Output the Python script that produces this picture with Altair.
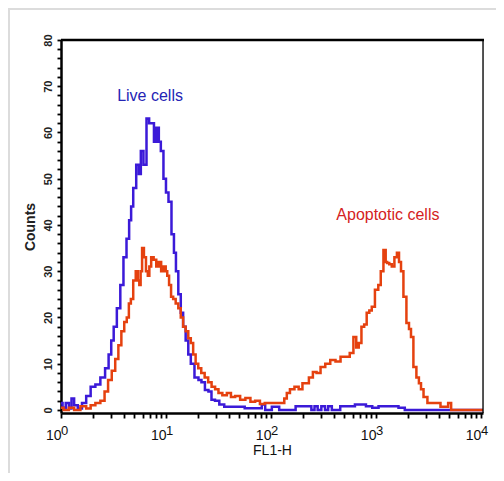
import altair as alt
import pandas as pd

# ---- data (x in decades of FL1-H, y = counts) ----
live_exp = [0.00, 0.03, 0.06, 0.09, 0.11, 0.14, 0.18, 0.22, 0.26, 0.305, 0.35, 0.40, 0.44, 0.467,
            0.49, 0.514, 0.55, 0.58, 0.61, 0.638, 0.66, 0.676, 0.70, 0.733, 0.75, 0.771, 0.80,
            0.829, 0.85, 0.876, 0.895, 0.924, 0.94, 0.962, 0.99, 1.01, 1.038, 1.067, 1.085,
            1.105, 1.13, 1.152, 1.175, 1.20, 1.225, 1.248, 1.295, 1.324, 1.352, 1.39, 1.419,
            1.448, 1.486, 1.53, 1.58, 1.70, 1.80, 1.895, 1.93, 1.96, 2.057, 2.10, 2.37, 2.40,
            2.43, 2.46, 2.50, 2.53, 2.56, 2.60, 2.72, 2.88, 2.93, 3.00, 3.05, 3.18, 3.25, 3.30, 4.02]
live_cnt = [1.5, 0.5, 1.5, 0.3, 2.5, 1.0, 0.3, 1.5, 3.0, 5.0, 5.5, 7.0, 9.0, 12.0,
            15.0, 18.0, 22.0, 27.0, 33.0, 37.0, 41.0, 44.0, 48.0, 53.0, 51.0, 56.0, 53.0,
            63.0, 62.0, 62.0, 58.0, 61.0, 58.0, 56.0, 50.0, 47.0, 45.0, 38.0, 34.0,
            30.0, 25.0, 21.0, 18.0, 15.0, 12.0, 10.0, 7.0, 6.5, 6.0, 4.3, 4.0,
            2.2, 2.0, 1.2, 0.7, 0.7, 0.4, 0.4, 1.2, 0.0, 0.7, 0.0, 0.8, 0.0,
            0.8, 0.0, 0.8, 0.0, 0.8, 0.0, 0.8, 1.2, 0.8, 0.5, 0.8, 0.8, 0.5, 0.0, 0.0]

apo_exp = [0.00, 0.05, 0.10, 0.15, 0.22, 0.26, 0.305, 0.35, 0.40, 0.43, 0.467, 0.50, 0.533,
           0.56, 0.59, 0.615, 0.638, 0.655, 0.676, 0.70, 0.724, 0.74, 0.752, 0.765, 0.78,
           0.80, 0.819, 0.835, 0.848, 0.87, 0.895, 0.92, 0.943, 0.965, 0.99, 1.005, 1.019,
           1.04, 1.057, 1.08, 1.105, 1.13, 1.152, 1.175, 1.20, 1.225, 1.248, 1.27, 1.295,
           1.32, 1.352, 1.385, 1.419, 1.45, 1.486, 1.514, 1.56, 1.60, 1.638, 1.68, 1.733,
           1.78, 1.829, 1.87, 1.92, 1.962, 2.03, 2.114, 2.14, 2.162, 2.20, 2.248, 2.28,
           2.32, 2.343, 2.38, 2.419, 2.45, 2.495, 2.54, 2.59, 2.64, 2.686, 2.73, 2.771,
           2.80, 2.825, 2.848, 2.876, 2.90, 2.924, 2.95, 2.971, 3.01, 3.035, 3.057, 3.086,
           3.10, 3.114, 3.14, 3.162, 3.19, 3.21, 3.23, 3.248, 3.276, 3.305, 3.325, 3.343,
           3.371, 3.40, 3.419, 3.44, 3.467, 3.514, 3.60, 3.63, 3.676, 3.70, 3.733, 4.02]
apo_cnt = [0.5, 0.0, 0.5, 0.0, 0.8, 0.3, 1.0, 1.5, 2.0, 4.0, 6.5, 8.5, 11.0,
           14.0, 17.0, 19.0, 20.0, 23.0, 24.0, 28.0, 30.0, 28.0, 27.0, 30.0, 35.0,
           33.0, 30.0, 29.0, 31.0, 33.0, 32.5, 31.0, 32.0, 30.0, 31.0, 30.0, 29.0,
           27.0, 24.5, 24.0, 23.0, 22.0, 20.0, 18.0, 17.0, 15.5, 14.5, 12.0, 10.0,
           9.0, 8.0, 7.0, 6.0, 5.0, 4.5, 3.7, 3.2, 3.7, 2.8, 3.0, 2.2,
           2.6, 1.8, 2.0, 1.3, 1.5, 1.5, 1.5, 2.5, 3.7, 4.5, 5.0, 4.5,
           5.8, 5.8, 7.0, 8.2, 8.0, 9.3, 10.0, 10.8, 10.5, 11.5, 11.5, 12.3,
           15.8, 13.5, 14.5, 18.0, 18.5, 21.0, 21.5, 22.3, 26.0, 27.0, 30.0, 34.6,
           32.0, 31.8, 31.5, 31.0, 33.0, 34.0, 32.0, 30.0, 24.5, 18.8, 17.5, 15.8,
           9.3, 7.0, 5.8, 4.5, 2.8, 1.5, 1.5, 0.7, 0.7, 1.5, 0.0, 0.0]

major_exps = ["0", "1", "2", "3", "4"]
y_ticks = list(range(0, 81, 2))
x_ticks = [k * 10 ** d for d in range(4) for k in range(1, 10)] + [10000]

label_text = ["Live cells", "Apoptotic cells"]
label_x = [7.05, 1300.0]
label_y = [66.8, 41.1]

W, H = 422, 373
PAD_L, PAD_T = 53, 32
TOTAL_W, TOTAL_H = 488, 465
FONT = "Liberation Sans"
BLUE = "#3b1ad8"
RED = "#e5410f"

live = pd.DataFrame({"FL1": [10 ** e for e in live_exp], "Counts": live_cnt})
apo = pd.DataFrame({"FL1": [10 ** e for e in apo_exp], "Counts": apo_cnt})

xscale = alt.Scale(type="log", domain=[1, 10 ** 4.02], nice=False)
yscale = alt.Scale(domain=[-0.65, 80], nice=False, zero=False)

xaxis = alt.Axis(
    values=x_ticks, tickCount=500, title="FL1-H", titleFont=FONT, titleFontSize=14,
    titleFontWeight="normal", titleColor="#111", titlePadding=1,
    labelExpr="indexof([1,10,100,1000,10000], datum.value) >= 0 ? '10' : ''",
    labelAlign="right", labelPadding=10, labelFont=FONT, labelFontSize=14,
    labelColor="#111", labelFlush=False, labelOverlap=False,
    tickSize=5, tickWidth=1.8, tickColor="#000", domainWidth=2.5, domainColor="#000",
    grid=False,
)
yaxis = alt.Axis(
    values=y_ticks, tickCount=500, title="Counts", titleFont=FONT, titleFontSize=14,
    titleFontWeight="bold", titleColor="#222", titlePadding=5,
    labelExpr="datum.value % 10 == 0 ? '' + datum.value : ''",
    labelAngle=270, labelAlign="center", labelBaseline="bottom", labelPadding=4,
    labelFont=FONT, labelFontSize=11, labelFontWeight="bold", labelColor="#222",
    labelOverlap=False, labelFlush=False,
    tickSize=4, tickWidth=1.8, tickColor="#000", domainWidth=2.5, domainColor="#000",
    grid=False,
)

base_live = alt.Chart(live).mark_line(interpolate="step", color=BLUE, strokeWidth=2.5, clip=True).encode(
    x=alt.X("FL1:Q", scale=xscale, axis=xaxis),
    y=alt.Y("Counts:Q", scale=yscale, axis=yaxis),
)
base_apo = alt.Chart(apo).mark_line(interpolate="step", color=RED, strokeWidth=2.5, clip=True).encode(
    x=alt.X("FL1:Q", scale=xscale),
    y=alt.Y("Counts:Q", scale=yscale),
)

labels = pd.DataFrame({"text": label_text, "x": label_x, "y": label_y,
                       "c": ["#2424b4", "#d42222"]})
ann = alt.Chart(labels).mark_text(font=FONT, fontSize=16, align="center", baseline="alphabetic").encode(
    x=alt.X("x:Q", scale=xscale),
    y=alt.Y("y:Q", scale=yscale),
    text="text:N",
    color=alt.Color("c:N", scale=None),
)

exps = pd.DataFrame({"e": major_exps, "x": [10 ** int(e) for e in major_exps]})
exp_text = alt.Chart(exps).mark_text(font=FONT, fontSize=13, align="left", baseline="alphabetic",
                                     dx=0, color="#111").encode(
    x=alt.X("x:Q", scale=xscale),
    y=alt.value(H + 22),
    text="e:N",
)

frame = pd.DataFrame({"k": ["top"]})
top_rule = alt.Chart(frame).mark_rule(color="#000", strokeWidth=2.5).encode(
    x=alt.value(0), x2=alt.value(W + 1), y=alt.value(0)
)
right_rule = alt.Chart(frame).mark_rule(color="#000", strokeWidth=1.3).encode(
    x=alt.value(W), y=alt.value(0), y2=alt.value(H)
)
outer_top = alt.Chart(frame).mark_rule(color="#dcdcdc", strokeWidth=2).encode(
    x=alt.value(-PAD_L), x2=alt.value(TOTAL_W - PAD_L), y=alt.value(-PAD_T + 1)
)
outer_left = alt.Chart(frame).mark_rule(color="#dcdcdc", strokeWidth=2).encode(
    x=alt.value(-PAD_L + 1), y=alt.value(-PAD_T), y2=alt.value(TOTAL_H - PAD_T)
)

chart = alt.layer(
    base_live, base_apo, ann, exp_text, top_rule, right_rule, outer_top, outer_left
).properties(
    width=W, height=H,
    autosize=alt.AutoSizeParams(type="none"),
    padding={"left": PAD_L, "top": PAD_T, "right": TOTAL_W - PAD_L - W, "bottom": TOTAL_H - PAD_T - H},
).configure_view(stroke=None).configure(background="#ffffff")

chart.save("out.html", embed_options={"renderer": "svg", "actions": False})
